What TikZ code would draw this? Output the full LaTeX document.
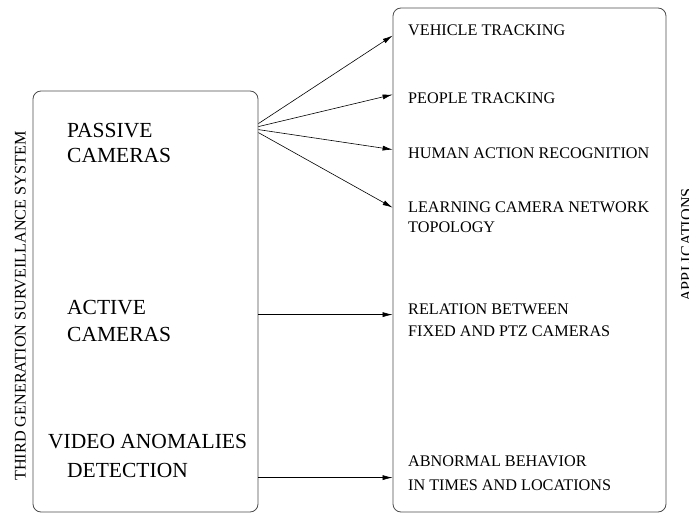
\documentclass[tikz,border=0pt]{standalone}
\usepackage{fontspec}
\setmainfont{Liberation Serif}
\usetikzlibrary{arrows.meta,calc}

\tikzset{
	panel/.style={draw=black!70, line width=0.8pt, rounded corners=8pt, inner sep=0pt},
	srclabel/.style={anchor=base west, inner sep=0pt, align=left, font=\fontsize{21.5}{25}\selectfont},
	applabel/.style={anchor=base west, inner sep=0pt, align=left, font=\fontsize{16.2}{20}\selectfont},
	sidelabel/.style={rotate=90, inner sep=0pt, font=\fontsize{16.2}{20}\selectfont},
	feed/.style={line width=0.6pt, -{Latex[length=10pt,width=5pt]}}
}

\begin{document}
\begin{tikzpicture}[x=1pt, y=-1pt]
		\useasboundingbox (0,0) rectangle (689,513);

		% the two boxes
		\node[panel, minimum width=225pt, minimum height=421pt] (sys) at (145.5,301.5) {};
		\node[panel, minimum width=273pt, minimum height=504pt] (apps) at (529.5,260) {};

		\node[sidelabel] (systitle) at (20.5,306) {THIRD GENERATION SURVEILLANCE SYSTEM};
		\node[sidelabel] (appstitle) at (686.5,245) {APPLICATIONS};

		% camera kinds (base = last line)
		\node[srclabel] (passive) at (67,163) {PASSIVE\\CAMERAS};
		\node[srclabel] (active) at (67,342) {ACTIVE\\[2pt]CAMERAS};
		\node[srclabel] (anomaly) at (48,478) {VIDEO ANOMALIES\\[4pt]\hspace{19pt}DETECTION};

		% applications
		\node[applabel] (vehicle) at (408,36) {VEHICLE TRACKING};
		\node[applabel] (people) at (408,104) {PEOPLE TRACKING};
		\node[applabel] (action) at (408,159) {HUMAN ACTION RECOGNITION};
		\node[applabel] (topology) at (408,233) {LEARNING CAMERA NETWORK\\TOPOLOGY};
		\node[applabel] (ptz) at (408,337) {RELATION BETWEEN\\[2pt]FIXED AND PTZ CAMERAS};
		\node[applabel] (abnormal) at (408,490) {ABNORMAL BEHAVIOR\\[4pt]IN TIMES AND LOCATIONS};

		\coordinate (s1) at ($(sys.north east)+(0,33)$);
		\coordinate (s2) at ($(sys.north east)+(0,36)$);
		\coordinate (s3) at ($(sys.north east)+(0,39)$);
		\coordinate (s4) at ($(sys.north east)+(0,42)$);
		\coordinate (s5) at ($(sys.north east)+(0,224)$);
		\coordinate (s6) at ($(sys.north east)+(0,387)$);

		\coordinate (t1) at ($(apps.north west)+(0,28)$);
		\coordinate (t2) at ($(apps.north west)+(0,87)$);
		\coordinate (t3) at ($(apps.north west)+(0,142)$);
		\coordinate (t4) at ($(apps.north west)+(0,200)$);

		\draw[feed] (s1) -- (t1);
		\draw[feed] (s2) -- (t2);
		\draw[feed] (s3) -- (t3);
		\draw[feed] (s4) -- (t4);
		\draw[feed] (s5) -- (s5 -| apps.west);
		\draw[feed] (s6) -- (s6 -| apps.west);
	\end{tikzpicture}
\end{document}
